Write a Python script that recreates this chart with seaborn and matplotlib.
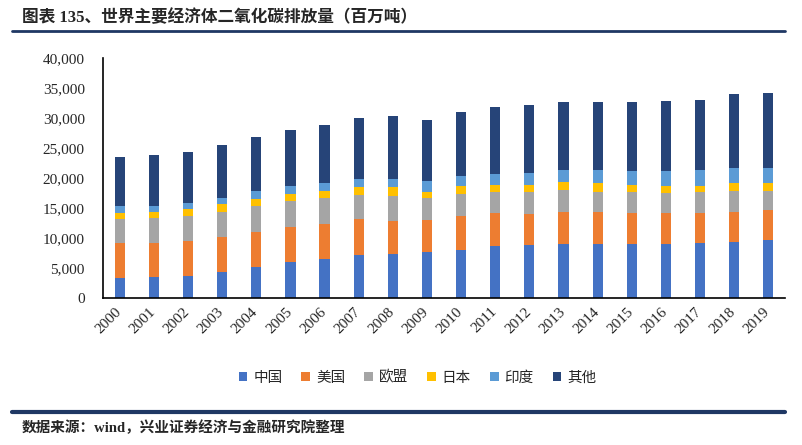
import matplotlib
matplotlib.use("Agg")
import matplotlib.pyplot as plt
from matplotlib.lines import Line2D
from matplotlib.patches import Patch
from matplotlib.ticker import FuncFormatter, FixedLocator
from matplotlib.transforms import ScaledTranslation
import seaborn as sns
import pandas as pd
import numpy as np

# 二氧化碳排放量（百万吨），数值为从图中读取的估计值
years = ["2000", "2001", "2002", "2003", "2004", "2005", "2006", "2007", "2008", "2009",
         "2010", "2011", "2012", "2013", "2014", "2015", "2016", "2017", "2018", "2019"]
china = [3350, 3500, 3700, 4400, 5200, 5950, 6600, 7100, 7350, 7700,
         8000, 8650, 8800, 9000, 9000, 9000, 9000, 9200, 9400, 9650]
usa = [5750, 5650, 5800, 5800, 5800, 5900, 5800, 6000, 5550, 5250,
       5600, 5550, 5150, 5400, 5400, 5250, 5100, 5000, 4950, 4950]
eu = [4000, 4150, 4100, 4200, 4300, 4300, 4250, 4100, 4150, 3700,
      3800, 3500, 3750, 3650, 3350, 3400, 3450, 3450, 3450, 3300]
japan = [1100, 1000, 1200, 1200, 1200, 1150, 1250, 1300, 1450, 1100,
         1250, 1200, 1200, 1250, 1400, 1250, 1200, 1100, 1350, 1250]
india = [1100, 1000, 1000, 1100, 1300, 1350, 1250, 1350, 1350, 1750,
         1700, 1800, 2000, 1950, 2100, 2200, 2350, 2500, 2450, 2450]
others = [8200, 8600, 8500, 8800, 9100, 9350, 9700, 10150, 10450, 10100,
          10600, 11150, 11300, 11450, 11450, 11600, 11800, 11800, 12350, 12500]

regions = ["中国", "美国", "欧盟", "日本", "印度", "其他"]
colors = ["#4472C4", "#ED7D31", "#A5A5A5", "#FFC000", "#5B9BD5", "#264478"]

df = pd.DataFrame({"中国": china, "美国": usa, "欧盟": eu, "日本": japan,
                   "印度": india, "其他": others}, index=years)
cum = df.cumsum(axis=1)

sns.set_style("white")
plt.rcParams["font.family"] = ["Liberation Serif", "Noto Sans CJK SC", "DejaVu Sans"]

fig = plt.figure(figsize=(8.03, 4.45), dpi=100)
ax = fig.add_axes([0.128, 0.330, 0.850, 0.540])

# stacked bars: draw cumulative totals from the top series down
for i in range(len(regions) - 1, -1, -1):
    sns.barplot(x=years, y=cum[regions[i]].values, order=years, color=colors[i],
                width=0.3, saturation=1, errorbar=None, linewidth=0, ax=ax)

ax.set_xlim(-0.5, len(years) - 0.5)
ax.set_ylim(0, 40000)
ax.set_yticks(range(0, 40001, 5000))
ax.yaxis.set_major_formatter(FuncFormatter(lambda v, p: f"{v:,.0f}"))
ax.set_xlabel("")
ax.set_ylabel("")

for s in ["top", "right"]:
    ax.spines[s].set_visible(False)
for s in ["left", "bottom"]:
    ax.spines[s].set_color("black")
    ax.spines[s].set_linewidth(1.2)

ax.tick_params(axis="y", length=0, pad=13, labelsize=11)
ax.tick_params(axis="x", which="major", length=0, pad=5, labelsize=11)
ax.xaxis.set_minor_locator(FixedLocator(np.arange(-0.5, len(years), 1.0)))
ax.tick_params(axis="x", which="minor", length=5, width=1.2, color="black", direction="out")
shift = ScaledTranslation(-5 / 100, 0, fig.dpi_scale_trans)
for lab in ax.get_xticklabels():
    lab.set_rotation(45)
    lab.set_ha("right")
    lab.set_va("top")
    lab.set_rotation_mode("anchor")
    lab.set_transform(lab.get_transform() + shift)

handles = [Patch(facecolor=c, edgecolor="none") for c in colors]
fig.legend(handles, regions, loc="center", bbox_to_anchor=(0.52, 0.151), ncol=6,
           frameon=False, handlelength=0.6, handleheight=0.6, handletextpad=0.4,
           columnspacing=1.3, prop={"family": "Noto Sans CJK SC", "size": 10.5})

fig.text(22 / 803, 1 - 18 / 445, "图表 135、世界主要经济体二氧化碳排放量（百万吨）",
         fontsize=12, fontweight="bold", va="center", ha="left")
fig.add_artist(Line2D([12 / 803, 785 / 803], [1 - 31 / 445, 1 - 31 / 445],
                      lw=2, color="#1F3864", transform=fig.transFigure))
fig.add_artist(Line2D([12 / 803, 785 / 803], [1 - 412 / 445, 1 - 412 / 445],
                      lw=3, color="#1F3864", transform=fig.transFigure))
fig.text(22 / 803, 1 - 428 / 445, "数据来源：wind，兴业证券经济与金融研究院整理",
         fontsize=10.5, fontweight="bold", va="center", ha="left")

fig.savefig("out.png", dpi=100)
